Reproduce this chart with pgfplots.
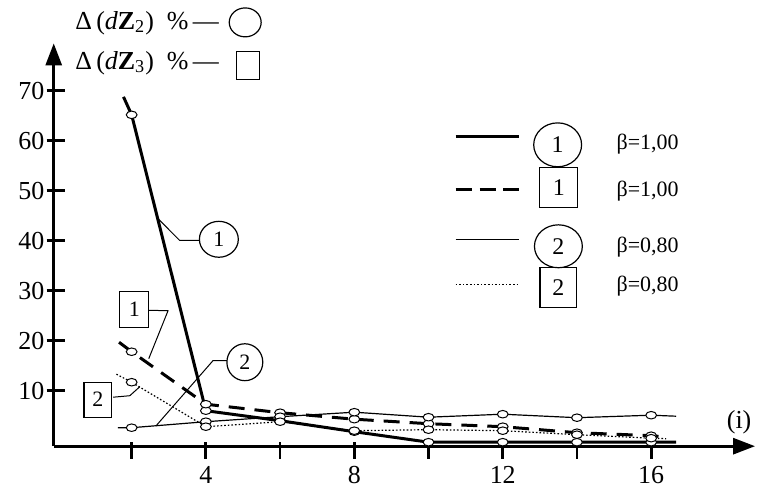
\documentclass[border=0pt]{standalone}
\usepackage{fontspec}
\setmainfont{Liberation Serif}
\usepackage{pgfplots}
\usepackage{pgfplotstable}
\pgfplotsset{compat=1.18}
\usetikzlibrary{arrows.meta,shapes.geometric}

% circle 1 : thick solid, beta = 1.00
\pgfplotstableread{
i v
1.78 68.8
2 65.2
4 6.0
6 4.0
8 1.8
10 -0.3
12 -0.3
14 -0.3
16 -0.3
16.67 -0.3
}\tblA
% square 1 : thick dashed, beta = 1.00
\pgfplotstableread{
i v
1.66 19.7
2 17.8
4 7.3
6 5.6
8 4.3
10 3.4
12 2.8
14 1.6
16 1.0
16.45 0.7
}\tblB
% circle 2 : thin solid, beta = 0.80
\pgfplotstableread{
i v
1.63 2.6
2 2.6
4 3.8
6 4.8
8 5.7
10 4.7
12 5.3
14 4.6
16 5.1
16.67 4.9
}\tblC
% square 2 : thin dotted, beta = 0.80
\pgfplotstableread{
i v
1.59 13.3
2 11.7
4 2.8
6 3.8
8 2.0
10 2.2
12 2.0
14 1.2
16 0.5
16.4 0.4
}\tblD

\pgfplotsset{mymark/.style={only marks, mark=*, mark size=2.7pt,
  mark options={fill=white, draw=black, line width=0.5pt, yscale=0.7},
  restrict x to domain=2:16}}

\begin{document}
\begin{tikzpicture}
\begin{axis}[
  x=18.6pt, y=2.505pt,
  xmin=-0.1, xmax=18.8, ymin=-1.1, ymax=79.5,
  axis x line=bottom, axis y line=left,
  axis line style={line width=1.4pt, -{Triangle[length=11pt,width=8pt]}},
  xtick={2,4,...,16},
  xticklabels={,\raisebox{-6pt}{4},,\raisebox{-6pt}{8},,\raisebox{-6pt}{12},,\raisebox{-6pt}{16}},
  ytick={10,20,...,70},
  tick align=center,
  major tick length=0pt,
  every tick/.style={black, line width=1.4pt},
  xticklabel style={yshift=-6.7pt},
  yticklabel style={xshift=-1.2pt},
  every tick label/.append style={font=\fontsize{13}{13}\selectfont},
  /pgf/number format/assume math mode=true,
  clip=false,
]
% axis ticks (drawn in axis coordinates)
\pgfplotsinvokeforeach{2,4,...,16}{\draw[line width=1.4pt] (axis cs:#1,-0.3) -- (axis cs:#1,-3.7);}
\pgfplotsinvokeforeach{10,20,...,70}{\draw[line width=1.4pt] (axis cs:-0.29,#1) -- (axis cs:0.2,#1);}

\addplot[line width=1.5pt] table {\tblA};
\addplot[line width=1.5pt, dash pattern=on 8pt off 5pt] table {\tblB};
\addplot[line width=0.6pt] table {\tblC};
\addplot[line width=0.6pt, dash pattern=on 0.8pt off 1pt] table {\tblD};

\addplot[mymark] table {\tblA};
\addplot[mymark] table {\tblB};
\addplot[mymark] table {\tblC};
\addplot[mymark] table {\tblD};

% leaders and labels
\draw[line width=0.5pt] (axis cs:2.70,44.5) -- (axis cs:3.29,40.1) -- (axis cs:3.86,40.1);
\node[draw, ellipse, line width=0.6pt, minimum width=19.5pt, minimum height=18pt, inner sep=0pt, fill=white, font=\fontsize{11}{11}\selectfont] at (axis cs:4.35,40.3) {1};

\draw[line width=0.5pt] (axis cs:4.57,16.0) -- (axis cs:4.19,16.0) -- (axis cs:2.66,3.0);
\node[draw, ellipse, line width=0.6pt, minimum width=18pt, minimum height=18.5pt, inner sep=0pt, fill=white, font=\fontsize{11}{11}\selectfont] at (axis cs:5.05,15.7) {2};

\draw[line width=0.5pt] (axis cs:2.46,26.1) -- (axis cs:2.98,26.0) -- (axis cs:2.46,16.4);
\node[draw, rectangle, line width=0.6pt, minimum width=14.5pt, minimum height=18pt, inner sep=0pt, fill=white, font=\fontsize{11}{11}\selectfont] at (axis cs:2.07,26.2) {1};

\draw[line width=0.5pt] (axis cs:1.50,8.7) -- (axis cs:1.95,9.0) -- (axis cs:2.22,10.8);
\node[draw, rectangle, line width=0.6pt, minimum width=14pt, minimum height=17.5pt, inner sep=0pt, fill=white, font=\fontsize{11}{11}\selectfont] at (axis cs:1.09,8.2) {2};

% legend (right)
\draw[line width=1.5pt] (axis cs:10.73,60.8) -- (axis cs:12.43,60.8);
\draw[line width=1.5pt, dash pattern=on 8pt off 4pt] (axis cs:10.73,50.3) -- (axis cs:12.43,50.3);
\draw[line width=0.6pt] (axis cs:10.73,40.3) -- (axis cs:12.43,40.3);
\draw[line width=0.6pt, dash pattern=on 0.8pt off 1pt] (axis cs:10.73,31.3) -- (axis cs:12.43,31.3);
\node[draw, ellipse, line width=0.6pt, minimum width=24pt, minimum height=22pt, inner sep=0pt, font=\fontsize{12}{12}\selectfont] at (axis cs:13.48,59.2) {1};
\node[draw, rectangle, line width=0.6pt, minimum width=19pt, minimum height=20pt, inner sep=0pt, font=\fontsize{12}{12}\selectfont] at (axis cs:13.51,50.6) {1};
\node[draw, ellipse, line width=0.6pt, minimum width=24pt, minimum height=21.5pt, inner sep=0pt, font=\fontsize{12}{12}\selectfont] at (axis cs:13.50,38.9) {2};
\node[draw, rectangle, line width=0.6pt, minimum width=18.5pt, minimum height=20pt, inner sep=0pt, font=\fontsize{12}{12}\selectfont] at (axis cs:13.50,30.6) {2};
\node[anchor=west, inner sep=0pt, font=\fontsize{11}{11}\selectfont] at (axis cs:15.06,59.3) {β=1,00};
\node[anchor=west, inner sep=0pt, font=\fontsize{11}{11}\selectfont] at (axis cs:15.06,49.9) {β=1,00};
\node[anchor=west, inner sep=0pt, font=\fontsize{11}{11}\selectfont] at (axis cs:15.06,38.7) {β=0,80};
\node[anchor=west, inner sep=0pt, font=\fontsize{11}{11}\selectfont] at (axis cs:15.06,30.9) {β=0,80};

% top labels
\node[anchor=west, inner sep=0pt, font=\fontsize{13}{13}\selectfont] at (axis cs:0.47,83.6) {Δ\,(\textit{d}\textbf{Z}\textsubscript{2})\ \ \%\,—};
\node[anchor=west, inner sep=0pt, font=\fontsize{13}{13}\selectfont] at (axis cs:0.47,75.6) {Δ\,(\textit{d}\textbf{Z}\textsubscript{3})\ \ \%\,—};
\node[draw, ellipse, line width=0.6pt, minimum width=16pt, minimum height=14.5pt, inner sep=0pt] at (axis cs:5.06,83.7) {};
\node[draw, rectangle, line width=0.6pt, minimum width=11.5pt, minimum height=14pt, inner sep=0pt] at (axis cs:5.13,75.0) {};

% axis label
\node[font=\fontsize{13}{13}\selectfont] at (axis cs:18.37,3.75) {(i)};

% page frame (invisible)
\path (axis cs:-1.548,-10.82) rectangle (axis cs:18.82,88.18);
\end{axis}
\end{tikzpicture}
\end{document}
